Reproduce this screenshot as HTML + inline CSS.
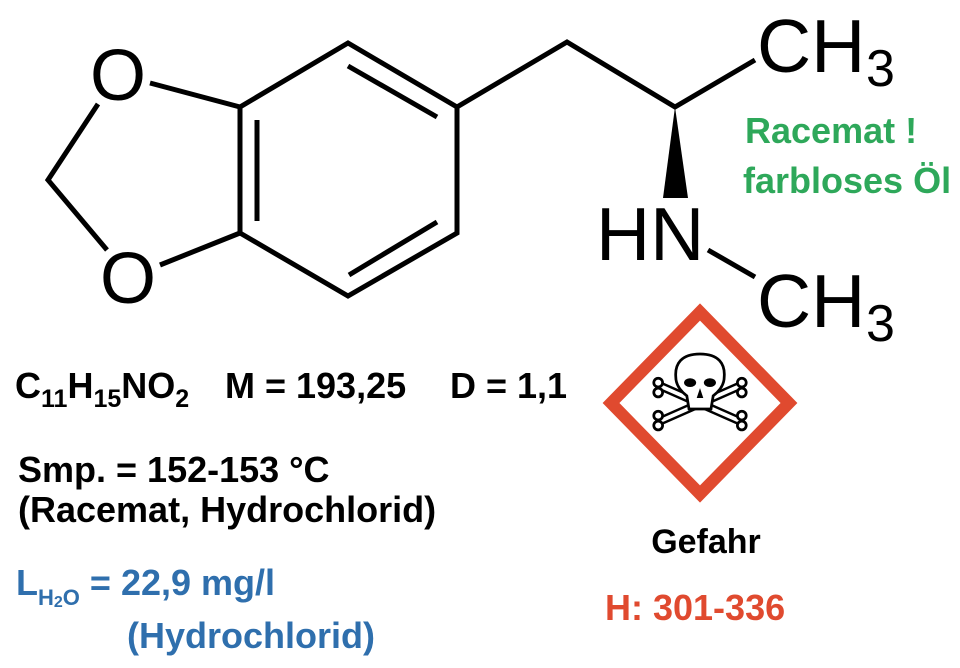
<!DOCTYPE html>
<html><head><meta charset="utf-8"><style>html,body{margin:0;padding:0;background:#fff}svg{display:block}</style></head>
<body>
<svg width="960" height="668" viewBox="0 0 960 668" xmlns="http://www.w3.org/2000/svg">
<g stroke="#000" stroke-width="5" fill="none" stroke-linecap="butt" stroke-linejoin="miter">
<polyline points="240,107 348,43 457,107 457,233 348,296 240,233 240,107"/>
<line x1="257" y1="120" x2="257" y2="221"/>
<line x1="348" y1="66" x2="437" y2="117"/>
<line x1="349" y1="275" x2="437" y2="222"/>
<line x1="150" y1="83" x2="240" y2="107"/>
<line x1="160" y1="265" x2="240" y2="233"/>
<polyline points="98,104 48,180 107,250"/>
<polyline points="457,107 567,42 675,107 755,60"/>
<line x1="708" y1="250" x2="755" y2="277"/>
</g>
<polygon points="675,107 663,198 688,198" fill="#000"/>
<g font-family="Liberation Sans, sans-serif" fill="#000">
<text x="90" y="100" font-size="72">O</text>
<text x="100" y="303" font-size="72">O</text>
<text x="757" y="72" font-size="75">CH</text>
<text x="866" y="86" font-size="52">3</text>
<text x="596" y="260" font-size="75">HN</text>
<text x="757" y="327" font-size="75">CH</text>
<text x="866" y="341" font-size="52">3</text>
</g>
<g font-family="Liberation Sans, sans-serif" font-weight="bold">
<text x="745" y="143" font-size="36" fill="#2ea85a">Racemat !</text>
<text x="743" y="193" font-size="36" fill="#2ea85a">farbloses Öl</text>
<text x="15" y="398" font-size="36" fill="#000">C<tspan font-size="25" dy="9">11</tspan><tspan dy="-9">H</tspan><tspan font-size="25" dy="9">15</tspan><tspan dy="-9">NO</tspan><tspan font-size="25" dy="9">2</tspan></text>
<text x="225" y="398" font-size="36" fill="#000">M = 193,25</text>
<text x="450" y="398" font-size="36" fill="#000">D = 1,1</text>
<text x="18" y="482" font-size="36" fill="#000">Smp. = 152-153 °C</text>
<text x="18" y="522" font-size="36" fill="#000">(Racemat, Hydrochlorid)</text>
<text x="16" y="595" font-size="36" fill="#2f6fad">L<tspan font-size="22" dy="10">H</tspan><tspan font-size="16" dy="2">2</tspan><tspan font-size="22" dy="-2">O</tspan><tspan dy="-10"> = 22,9 mg/l</tspan></text>
<text x="127" y="648" font-size="36" fill="#2f6fad">(Hydrochlorid)</text>
<text x="706" y="553" font-size="34" fill="#000" text-anchor="middle">Gefahr</text>
<text x="605" y="620" font-size="36" fill="#e04a2f">H: 301-336</text>
</g>
<polygon points="700,312 789,403 700,494 611,403" fill="#fff" stroke="#e04a2f" stroke-width="12" stroke-linejoin="miter"/>
<g transform="translate(700,398) scale(1.1) translate(-700,-398)">
<g stroke="#000" stroke-width="2.5" fill="#fff">
<path d="M666,388 L734,418 M666,418 L734,388" stroke-width="8" stroke-linecap="round"/>
<path d="M666,388 L734,418 M666,418 L734,388" stroke="#fff" stroke-width="3.5" stroke-linecap="round"/>
<circle cx="662" cy="384" r="4"/><circle cx="662" cy="393" r="4"/>
<circle cx="738" cy="384" r="4"/><circle cx="738" cy="393" r="4"/>
<circle cx="662" cy="414" r="4"/><circle cx="662" cy="423" r="4"/>
<circle cx="738" cy="414" r="4"/><circle cx="738" cy="423" r="4"/>
<path d="M700,358 C683,358 677,367 678,379 C678,387 684,393 688,396 L690,408 L710,408 L712,396 C716,393 722,387 722,379 C723,367 717,358 700,358 Z"/>
</g>
<g fill="#000">
<ellipse cx="691" cy="384" rx="5.5" ry="4"/>
<ellipse cx="709" cy="384" rx="5.5" ry="4"/>
<polygon points="700,389 697,398 703,398"/>
</g>
</g>
</svg>
</body></html>
